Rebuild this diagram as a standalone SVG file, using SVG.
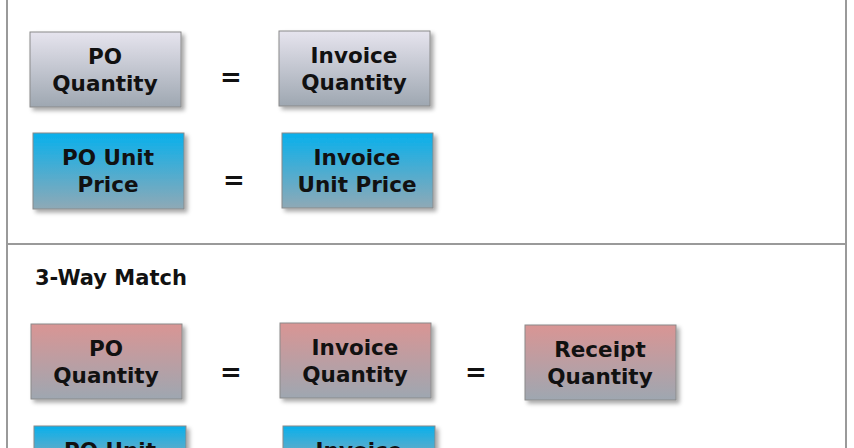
<svg xmlns="http://www.w3.org/2000/svg" width="854" height="448" viewBox="0 0 854 448">
<defs>
<linearGradient id="g" x1="0" y1="0" x2="0" y2="1"><stop offset="0" stop-color="#e6e4ee"/><stop offset="1" stop-color="#9ea7b1"/></linearGradient>
<linearGradient id="b" x1="0" y1="0" x2="0" y2="1"><stop offset="0" stop-color="#08b0ec"/><stop offset="1" stop-color="#8fa9b6"/></linearGradient>
<linearGradient id="r" x1="0" y1="0" x2="0" y2="1"><stop offset="0" stop-color="#d99594"/><stop offset="1" stop-color="#9ea7b1"/></linearGradient>
<filter id="s" x="-10%" y="-10%" width="130%" height="130%"><feDropShadow dx="3" dy="3" stdDeviation="2" flood-color="#000" flood-opacity="0.35"/></filter>
</defs>
<style>
.box{stroke:#8a8a8a;stroke-width:1;filter:url(#s)}
.t{font-family:"DejaVu Sans",Verdana,sans-serif;font-weight:bold;font-size:21.5px;fill:#111;text-anchor:middle}
.eq{font-family:"DejaVu Sans",sans-serif;font-weight:bold;font-size:26px;fill:#111;text-anchor:middle}
.h{font-family:"DejaVu Sans",sans-serif;font-weight:bold;font-size:21px;fill:#111}
</style>
<rect width="854" height="448" fill="#fff"/>
<g id="frame" fill="none" stroke="#9a9a9a" stroke-width="2">
<line x1="7" y1="0" x2="7" y2="448"/>
<line x1="846" y1="0" x2="846" y2="448"/>
<line x1="7" y1="244" x2="846" y2="244"/>
</g>
<g id="n1"><rect class="box" x="30" y="32" width="151" height="75" fill="url(#g)"/><text class="t" x="105" y="64">PO</text><text class="t" x="105" y="91">Quantity</text></g>
<g id="n2"><rect class="box" x="279" y="31" width="151" height="75" fill="url(#g)"/><text class="t" x="354" y="63">Invoice</text><text class="t" x="354" y="90">Quantity</text></g>
<g id="n3"><rect class="box" x="33" y="133" width="151" height="76" fill="url(#b)"/><text class="t" x="108" y="165">PO Unit</text><text class="t" x="108" y="192">Price</text></g>
<g id="n4"><rect class="box" x="282" y="133" width="151" height="75" fill="url(#b)"/><text class="t" x="357" y="165">Invoice</text><text class="t" x="357" y="192">Unit Price</text></g>
<text class="h" x="35" y="285">3-Way Match</text>
<g id="n5"><rect class="box" x="31" y="324" width="151" height="75" fill="url(#r)"/><text class="t" x="106" y="356">PO</text><text class="t" x="106" y="383">Quantity</text></g>
<g id="n6"><rect class="box" x="280" y="323" width="151" height="75" fill="url(#r)"/><text class="t" x="355" y="355">Invoice</text><text class="t" x="355" y="382">Quantity</text></g>
<g id="n7"><rect class="box" x="525" y="325" width="151" height="75" fill="url(#r)"/><text class="t" x="600" y="357">Receipt</text><text class="t" x="600" y="384">Quantity</text></g>
<g id="n8"><rect class="box" x="34" y="426" width="152" height="40" fill="url(#b)"/><text class="t" x="110" y="458">PO Unit</text></g>
<g id="n9"><rect class="box" x="283" y="426" width="152" height="40" fill="url(#b)"/><text class="t" x="359" y="458">Invoice</text></g>
<g id="connectors">
<text class="eq" x="231" y="86">=</text>
<text class="eq" x="234" y="189">=</text>
<text class="eq" x="231" y="381">=</text>
<text class="eq" x="476" y="381">=</text>
</g>
</svg>
